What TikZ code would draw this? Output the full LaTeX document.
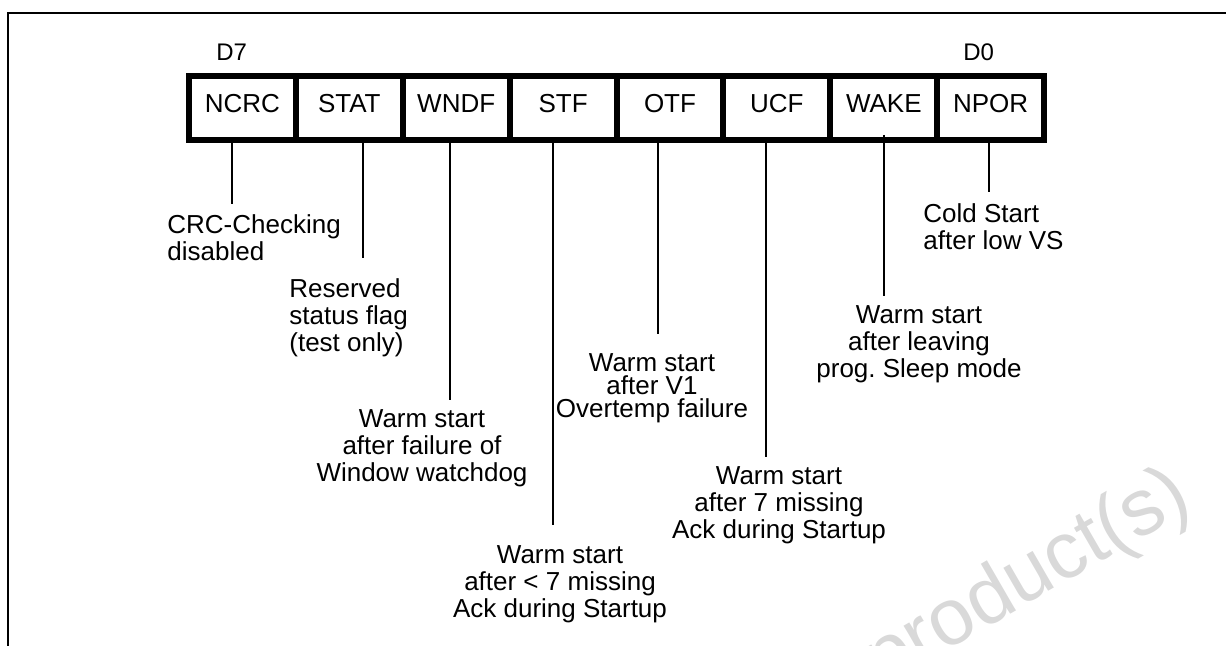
\documentclass[tikz,border=0pt]{standalone}
\usepackage{fontspec}
\setmainfont{Liberation Sans}
\usetikzlibrary{calc}

\tikzset{
	cellbox/.style={draw, line width=3pt, minimum width=53.45pt, minimum height=32pt, inner sep=0pt, text height=9.3pt, text depth=5pt, font=\fontsize{13}{13.5}\selectfont},
	desc/.style={inner sep=0pt, font=\fontsize{13}{13.5}\selectfont},
	bitnum/.style={inner sep=0pt, anchor=base west, font=\fontsize{12}{12}\selectfont},
	leadline/.style={line width=1pt},
}

\begin{document}
\begin{tikzpicture}[x=0.5pt, y=-0.5pt]
	\useasboundingbox (0,0) rectangle (1226,646);
	\clip (0,0) rectangle (1226,646);

	% watermark
	\node[anchor=base west, rotate=30, text=black!15, inner sep=0pt, font=\fontsize{40}{40}\selectfont] (wmark) at (882,688) {product(s)};

	% frame
	\draw[line width=1pt] (8,646) -- (8,13) -- (1226,13);

	% register D7 ... D0
	\node[cellbox] (ncrc) at (242.4,108) {NCRC};
	\node[cellbox] (stat) at (349.3,108) {STAT};
	\node[cellbox] (wndf) at (456.2,108) {WNDF};
	\node[cellbox] (stf)  at (563.1,108) {STF};
	\node[cellbox] (otf)  at (670.0,108) {OTF};
	\node[cellbox] (ucf)  at (776.9,108) {UCF};
	\node[cellbox] (wake) at (883.8,108) {WAKE};
	\node[cellbox] (npor) at (990.6,108) {NPOR};
	\node[bitnum] (d7) at (216,61) {D7};
	\node[bitnum] (d0) at (963,61) {D0};

	%%% ends of the leader lines
	\coordinate (lNCRC) at (232,204);
	\coordinate (lSTAT) at (363,258);
	\coordinate (lWNDF) at (450,400);
	\coordinate (lSTF)  at (553,525);
	\coordinate (lOTF)  at (658,334);
	\coordinate (lUCF)  at (766,457);
	\coordinate (lWAKE) at (884,296);
	\coordinate (lNPOR) at (989,192);

	%%% leader lines
	\draw[leadline] (ncrc.south -| lNCRC) -- (lNCRC);
	\draw[leadline] (stat.south -| lSTAT) -- (lSTAT);
	\draw[leadline] (wndf.south -| lWNDF) -- (lWNDF);
	\draw[leadline] (stf.south -| lSTF) -- (lSTF);
	\draw[leadline] (otf.south -| lOTF) -- (lOTF);
	\draw[leadline] (ucf.south -| lUCF) -- (lUCF);
	\draw[leadline] ($(wake.south -| lWAKE)+(0,-8)$) -- (lWAKE);
	\draw[leadline] (npor.south -| lNPOR) -- (lNPOR);

	% descriptions
	\node[desc, anchor=north west, align=left] (tNCRC) at (167,214) {CRC-Checking\\disabled};
	\node[desc, anchor=north west, align=left] (tSTAT) at (289,278) {Reserved\\status flag\\(test only)};
	\node[desc, anchor=north, align=center] (tWNDF) at (422,409) {Warm start\\after failure of\\Window watchdog};
	\node[desc, anchor=north, align=center] (tSTF) at (560,545) {Warm start\\after < 7 missing\\Ack during Startup};
	\node[desc, anchor=north, align=center, font=\fontsize{13}{11.5}\selectfont] (tOTF) at (652,353) {Warm start\\after V1\\Overtemp failure};
	\node[desc, anchor=north, align=center] (tUCF) at (779,466) {Warm start\\after 7 missing\\Ack during Startup};
	\node[desc, anchor=north, align=center] (tWAKE) at (919,305) {Warm start\\after leaving\\prog.\ Sleep mode};
	\node[desc, anchor=north west, align=left] (tNPOR) at (923,203) {Cold Start\\after low VS};
\end{tikzpicture}
\end{document}
